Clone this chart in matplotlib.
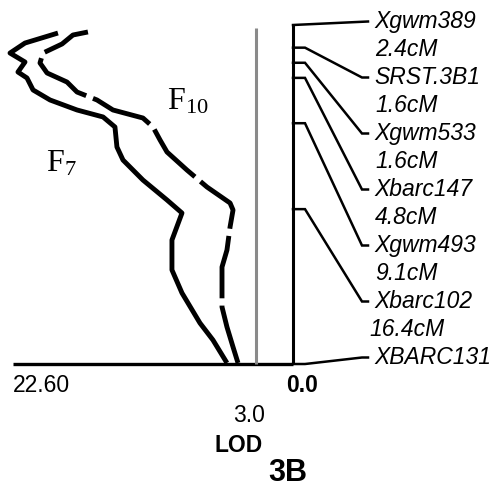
import matplotlib
matplotlib.use("Agg")
import matplotlib.pyplot as plt
import numpy as np

plt.rcParams["mathtext.fontset"] = "custom"
plt.rcParams["mathtext.rm"] = "Liberation Serif"
plt.rcParams["mathtext.it"] = "Liberation Serif:italic"

# ---------------- data ----------------
markers = ["Xgwm389", "SRST.3B1", "Xgwm533", "Xbarc147", "Xgwm493", "Xbarc102", "XBARC131"]
intervals = [2.4, 1.6, 1.6, 4.8, 9.1, 16.4]
interval_labels = ["2.4cM", "1.6cM", "1.6cM", "4.8cM", "9.1cM", "16.4cM"]

# F7 LOD profile (solid): position (cM) and LOD
f7_cm = [0.85, 1.91, 2.97, 3.92, 4.98, 5.61, 6.88, 7.94, 9.00, 9.74, 10.80, 12.92,
         14.30, 16.42, 18.53, 19.91, 22.77, 25.94, 28.38, 31.56, 33.36, 35.79]
f7_lod = [18.97, 21.63, 22.84, 21.63, 22.20, 21.47, 20.98, 19.61, 17.43, 15.33, 14.37, 14.21,
          13.72, 12.11, 10.17, 8.96, 9.77, 9.77, 8.96, 7.51, 6.46, 5.33]

# F10 LOD profile (dashed)
f10_cm = [0.74, 1.06, 2.01, 2.97, 4.02, 5.08, 6.04, 7.10, 7.94, 9.00, 9.85, 10.80, 12.18,
          13.45, 15.36, 17.16, 18.85, 19.59, 21.39, 23.83, 25.63, 29.86, 31.98, 34.10, 35.79]
f10_lod = [16.55, 17.76, 18.64, 20.18, 20.42, 19.85, 18.24, 17.43, 15.82, 14.53, 12.11, 11.30,
           10.73, 10.17, 8.56, 6.94, 5.08, 4.84, 5.08, 5.33, 5.73, 5.73, 5.33, 4.84, 4.44]

lod_max = 22.60
threshold = 3.0
lod_ticks = ["22.60", "3.0", "0.0"]
chrom_label = "3B"

# ---------------- layout ----------------
W, H, DPI = 496, 488, 100
fig = plt.figure(figsize=(W / DPI, H / DPI), dpi=DPI)
ax = fig.add_axes([0, 0, 1, 1])
ax.set_xlim(23.648, -16.384)
ax.set_ylim(49.03, -2.647)
ax.axis("off")
fig.canvas.draw()


def P(px, py):
    """pixel (from top-left) -> data coords"""
    return ax.transData.inverted().transform((px, H - py))


def FT(px, py):
    return px / W, 1 - py / H


cum = np.concatenate([[0.0], np.cumsum(intervals)])
total = cum[-1]

# LOD curves
ax.plot(f7_lod, f7_cm, color="black", lw=3.5, solid_joinstyle="round", solid_capstyle="butt")
ax.plot(f10_lod, f10_cm, color="black", lw=3.5, linestyle=(3, (13, 1.5)), dash_capstyle="butt",
        dash_joinstyle="round")

# baseline (LOD axis)
ax.plot([lod_max, 0], [total, total], color="black", lw=2.4, solid_capstyle="butt")
# threshold line
top_thr = P(0, 28)[1]
ax.plot([threshold, threshold], [top_thr, total], color="#8a8a8a", lw=2.2, solid_capstyle="butt")
# chromosome
ax.plot([0, 0], [0, total], color="black", lw=2.2, solid_capstyle="butt")

# connectors + labels
row0, row_step = 28, 28.0
x_knee1 = P(305, 0)[0]
x_knee2 = P(362, 0)[0]
x_end = P(368, 0)[0]
lab_fs = 16.5
for i, c in enumerate(cum):
    yb = row0 + 2 * i * row_step
    yc = P(0, yb - 6.5)[1]
    if i == 0:
        xs = [0, x_end]
        ys = [c, yc]
    else:
        xs = [0, x_knee1, x_knee2, x_end]
        ys = [c, c, yc, yc]
    ax.plot(xs, ys, color="black", lw=1.8, solid_joinstyle="miter")
    fig.text(*FT(374, yb), markers[i], fontsize=lab_fs, family="Liberation Sans",
             style="italic", va="baseline", ha="left")
for i, lab in enumerate(interval_labels):
    yb = row0 + (2 * i + 1) * row_step
    xl = 369 if len(lab) > 5 else 375
    fig.text(*FT(xl, yb), lab, fontsize=lab_fs, family="Liberation Sans",
             style="italic", va="baseline", ha="left")

# F labels
fig.text(*FT(167, 109), r"F$_{\mathrm{10}}$", fontsize=23, family="Liberation Serif", va="baseline")
fig.text(*FT(46, 172), r"F$_{\mathrm{7}}$", fontsize=23, family="Liberation Serif", va="baseline")

# bottom labels
fig.text(*FT(13, 392.5), lod_ticks[0], fontsize=16.5, family="Liberation Sans", va="baseline")
fig.text(*FT(233, 421.5), lod_ticks[1], fontsize=16.5, family="Liberation Sans", va="baseline")
fig.text(*FT(286, 392.5), lod_ticks[2], fontsize=16.5, family="Liberation Sans",
         weight="bold", va="baseline")
fig.text(*FT(215, 451.5), "LOD", fontsize=16.5, family="Liberation Sans", weight="bold", va="baseline")
fig.text(*FT(268, 481), chrom_label, fontsize=22, family="Liberation Sans", weight="bold", va="baseline")

fig.savefig("out.png", dpi=DPI)
